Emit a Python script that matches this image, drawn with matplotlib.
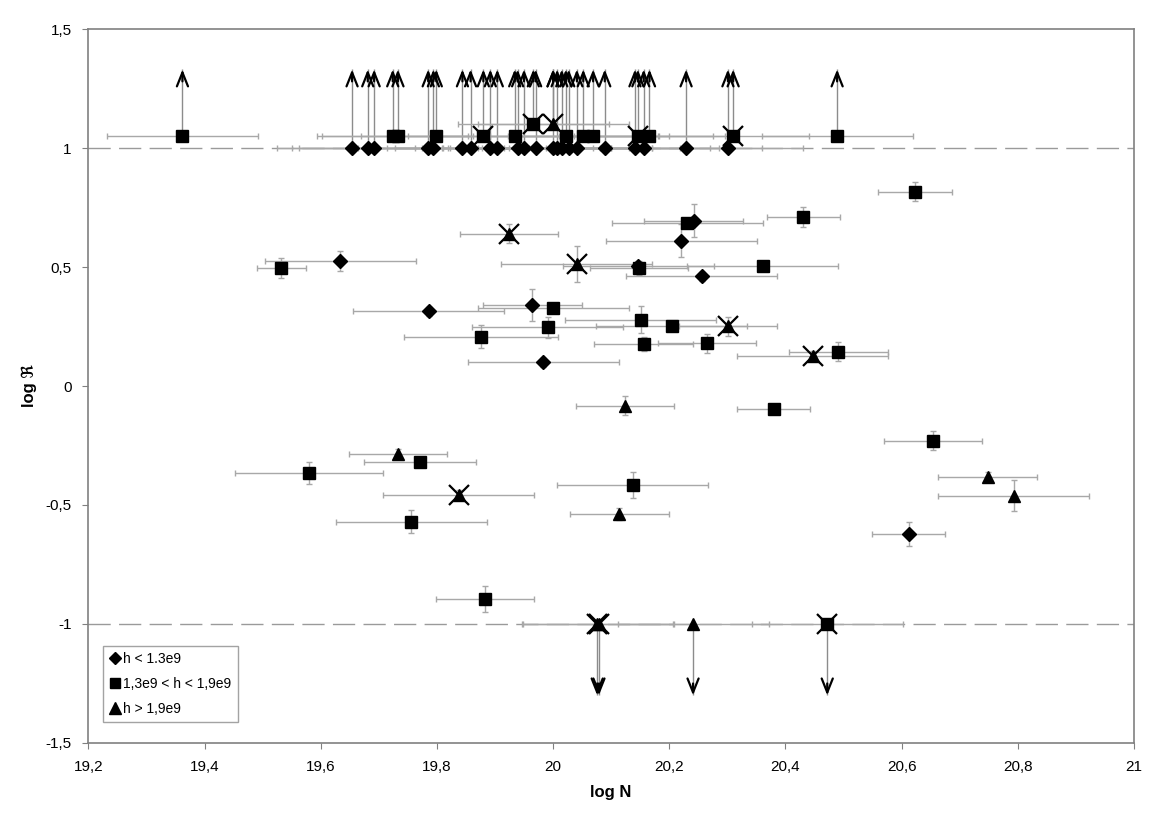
import numpy as np
import matplotlib.pyplot as plt

plt.rcParams['font.family'] = ['Liberation Sans', 'DejaVu Sans']

# ---- h < 1.3e9 (diamonds) ----
d_x = [19.634, 20.221, 20.242, 20.147, 20.256, 19.786, 19.964, 19.983, 20.612]
d_y = [0.525, 0.610, 0.695, 0.505, 0.461, 0.314, 0.340, 0.099, -0.622]
d_xerr = [0.13, 0.13, 0.085, 0.13, 0.13, 0.13, 0.085, 0.13, 0.063]
d_yerr = [0.042, 0.07, 0.07, 0.02, 0.02, 0.02, 0.068, 0.02, 0.05]
# lower limits (arrows up)
d_up_x = [19.654, 19.681, 19.692, 19.785, 19.794, 19.844, 19.858, 19.892, 19.904,
          19.939, 19.950, 19.970, 20.000, 20.007, 20.015, 20.027, 20.041, 20.089,
          20.141, 20.156, 20.229, 20.301]
d_up_y = [1.0] * len(d_up_x)

# ---- 1.3e9 < h < 1.9e9 (squares) ----
s_x = [19.532, 20.148, 20.361, 20.231, 20.431, 20.623, 20.000, 20.151, 19.991, 20.204,
       19.876, 20.156, 20.265, 20.491, 20.380, 20.654, 20.137, 19.771, 19.580, 19.756,
       19.883]
s_y = [0.496, 0.496, 0.505, 0.683, 0.711, 0.816, 0.328, 0.279, 0.246, 0.252,
       0.208, 0.176, 0.180, 0.143, -0.097, -0.230, -0.416, -0.318, -0.366, -0.570,
       -0.895]
s_xerr = [0.042, 0.085, 0.13, 0.13, 0.063, 0.063, 0.13, 0.13, 0.13, 0.13,
          0.133, 0.085, 0.085, 0.085, 0.063, 0.085, 0.13, 0.097, 0.128, 0.13,
          0.085]
s_yerr = [0.043, 0.03, 0.02, 0.02, 0.043, 0.04, 0.02, 0.056, 0.045, 0.02,
          0.05, 0.03, 0.04, 0.04, 0.02, 0.04, 0.053, 0.02, 0.045, 0.047,
          0.056]
s_up_x = [19.362, 19.724, 19.733, 19.799, 19.880, 19.934, 19.966, 20.022, 20.052,
          20.069, 20.146, 20.166, 20.310, 20.489]
s_up_y = [1.05, 1.05, 1.05, 1.05, 1.05, 1.05, 1.10, 1.05, 1.05,
          1.05, 1.05, 1.05, 1.05, 1.05]
s_up_cross = [0, 0, 0, 0, 1, 0, 1, 0, 0, 0, 1, 0, 1, 0]
# upper limits (arrows down)
s_dn_x = [20.472]
s_dn_y = [-1.0]
s_dn_cross = [1]

# ---- h > 1.9e9 (triangles) ----
t_x = [19.924, 20.041, 20.301, 20.447, 20.124, 19.733, 19.838, 20.114, 20.748, 20.793]
t_y = [0.639, 0.513, 0.252, 0.127, -0.083, -0.286, -0.458, -0.538, -0.381, -0.461]
t_xerr = [0.085, 0.13, 0.085, 0.13, 0.085, 0.085, 0.13, 0.085, 0.085, 0.13]
t_yerr = [0.04, 0.077, 0.04, 0.02, 0.04, 0.02, 0.02, 0.025, 0.02, 0.065]
t_cross = [1, 1, 1, 1, 0, 0, 1, 0, 0, 0]
t_up_x = [20.000]
t_up_y = [1.10]
t_up_cross = [1]
t_dn_x = [20.076, 20.079, 20.241]
t_dn_y = [-1.0, -1.0, -1.0]
t_dn_cross = [1, 1, 0]

limit_err = 0.13     # x error of the limit points
up_tip = 1.33
dn_tip = -1.30

ecol = '#a8a8a8'

fig = plt.figure(figsize=(11.7, 8.27), dpi=100)
ax = fig.add_axes([0.0755, 0.1016, 0.8937, 0.8633])

# dashed reference lines
for lev in (1, -1):
    ax.axhline(lev, color='#9a9a9a', lw=1, ls=(0, (16, 6)), zorder=0)


def errs(x, y, xe, ye=None):
    ax.errorbar(x, y, xerr=xe, yerr=ye, fmt='none', ecolor=ecol, elinewidth=1,
                capsize=2.5, capthick=1, zorder=1)


def arrows(x, y, tip):
    ax.vlines(x, y, tip, color='#8c8c8c', lw=1, zorder=1)
    step = 0.05 if tip > 0 else -0.05
    for xi in x:
        ax.annotate('', xy=(xi, tip), xytext=(xi, tip - step),
                    arrowprops=dict(arrowstyle='->,head_length=0.5,head_width=0.2',
                                    color='black', lw=1.6, mutation_scale=20,
                                    shrinkA=0, shrinkB=0), zorder=3)


def crosses(x, y, flags):
    cx = [a for a, f in zip(x, flags) if f]
    cy = [b for b, f in zip(y, flags) if f]
    ax.plot(cx, cy, 'x', color='black', ms=15, mew=1.6, zorder=4)


mk = dict(color='black', linestyle='none', zorder=3)

# diamonds
errs(d_x, d_y, d_xerr, d_yerr)
errs(d_up_x, d_up_y, limit_err)
arrows(d_up_x, d_up_y, up_tip)
ax.plot(d_x + d_up_x, d_y + d_up_y, marker='D', ms=7.5, **mk)

# squares
errs(s_x, s_y, s_xerr, s_yerr)
errs(s_up_x, s_up_y, limit_err)
errs(s_dn_x, s_dn_y, limit_err)
arrows(s_up_x, s_up_y, up_tip)
arrows(s_dn_x, s_dn_y, dn_tip)
ax.plot(s_x + s_up_x + s_dn_x, s_y + s_up_y + s_dn_y, marker='s', ms=8, **mk)
crosses(s_up_x, s_up_y, s_up_cross)
crosses(s_dn_x, s_dn_y, s_dn_cross)

# triangles
errs(t_x, t_y, t_xerr, t_yerr)
errs(t_up_x, t_up_y, limit_err)
errs(t_dn_x, t_dn_y, limit_err)
arrows(t_up_x, t_up_y, up_tip)
arrows(t_dn_x, t_dn_y, dn_tip)
ax.plot(t_x + t_up_x + t_dn_x, t_y + t_up_y + t_dn_y, marker='^', ms=9, **mk)
crosses(t_x, t_y, t_cross)
crosses(t_up_x, t_up_y, t_up_cross)
crosses(t_dn_x, t_dn_y, t_dn_cross)

# legend
h1, = ax.plot([], [], 'D', color='black', ms=6)
h2, = ax.plot([], [], 's', color='black', ms=7)
h3, = ax.plot([], [], '^', color='black', ms=8)
leg = ax.legend([h1, h2, h3], ['h < 1.3e9', '1,3e9 < h < 1,9e9', 'h > 1,9e9'],
                loc='lower left', bbox_to_anchor=(0.0143, 0.029), borderaxespad=0,
                fancybox=False, edgecolor='#8c8c8c', fontsize=10, handlelength=0.8,
                handletextpad=0.2, labelspacing=0.8, borderpad=0.45)
leg.get_frame().set_linewidth(1)

ax.set_xlim(19.2, 21)
ax.set_ylim(-1.5, 1.5)
xt = np.arange(19.2, 21.01, 0.2)
ax.set_xticks(xt)
ax.set_xticklabels([('%g' % round(v, 1)).replace('.', ',') for v in xt])
yt = [-1.5, -1, -0.5, 0, 0.5, 1, 1.5]
ax.set_yticks(yt)
ax.set_yticklabels([('%g' % v).replace('.', ',') for v in yt])
ax.tick_params(direction='out', length=4, color='#808080', labelsize=11, pad=8)
for sp in ax.spines.values():
    sp.set_color('#808080')
    sp.set_linewidth(1.2)

ax.set_xlabel('log N', fontsize=12, fontweight='bold', labelpad=8)
ax.set_ylabel('log ℜ', fontsize=12, fontweight='bold', labelpad=6)

fig.savefig('out.png', dpi=100)
